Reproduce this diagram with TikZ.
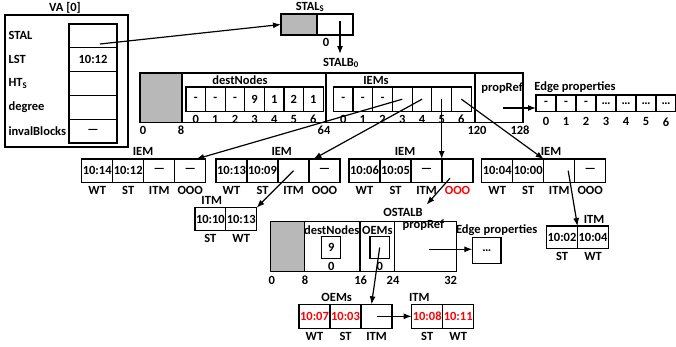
\documentclass[tikz,border=0pt]{standalone}
\usepackage{fontspec}
\setmainfont{Carlito}
\usetikzlibrary{positioning, arrows.meta}

\tikzset{
	cell/.style={draw, inner sep=0pt, outer sep=0pt, minimum width=#1},
	cell/.default=31,
	shade/.style={fill=black!28}
}

\begin{document}
\begin{tikzpicture}[x=1pt, y=-1pt, >={Latex[length=8pt,width=6pt]},
		line width=1.2pt, font=\fontsize{12.5}{14}\selectfont\bfseries]
		\useasboundingbox (0,0) rectangle (676,346);

		\def\Ty{97.75}
		\def\Th{49.5}
		\def\Oy{246.7}
		\def\Oh{50}

		% vertex array
		\node[draw, minimum width=123, minimum height=132] (va) at (66.5,81) {};
		\node (vaTitle) at (65,8) {VA [0]};
		\foreach \name/\lab/\val [count=\i from 0] in {STAL/STAL/{}, LST/LST/10:12,
				HT/HT\textsubscript{S}/{}, deg/degree/{}, inv/invalBlocks/\textemdash} {
			\node[cell=48, minimum height=23.8] (va\name) at (93,{35.9+23.8*\i}) {\val};
			\node[anchor=west, inner sep=0pt] at (8,{35.9+23.8*\i}) {\lab};
		}

		% STAL_S
		\node[cell=36, minimum height=21, shade] (stalsGray) at (299,24.5) {};
		\node[cell=36, minimum height=21] (stalsSlot) at (335,24.5) {};
		\node (stalsTitle) at (310,7) {STAL\textsubscript{S}};
		\node at (326,42) {0};
		\coordinate (vaPtr) at (100,44);
		\coordinate (stalsPtr) at (340,21);
		\node (stalbTitle) at (341,63) {STALB\textsubscript{0}};

		\draw[->] (vaPtr) -- (stalsGray.west);
		\draw[->] (stalsPtr) -- (stalsPtr |- stalbTitle.north);

		% STALB
		\node[cell=42, minimum height=\Th, shade] (stalbGray) at (161,\Ty) {};
		\node[cell=144, minimum height=\Th] (stalbDest) at (254,\Ty) {};
		\node[cell=149, minimum height=\Th] (stalbIEMs) at (400.5,\Ty) {};
		\node[cell=48, minimum height=\Th] (stalbProp) at (499,\Ty) {};
		\node at (240,80) {destNodes};
		\node at (376,80) {IEMs};
		\node at (502,88) {propRef};
		\foreach \v [count=\i from 0] in {-,-,-,9,1,2,1}
			\node[cell=19.6, minimum height=24.5, label=below:\i] (dn\i)
				at ({195.8+19.6*\i},99.2) {\v};
		\foreach \v [count=\i from 0] in {-,-,-,{},{},{},{}}
			\node[cell=19.7, minimum height=24.5, label=below:\i] (ie\i)
				at ({343.2+19.7*\i},99.2) {\v};
		\foreach \x/\t in {143/0, 181/8, 324/64, 477/120, 520/128}
			\node at (\x,130) {\t};

		% edge properties
		\node (epTitle) at (575,87) {Edge properties};
		\foreach \v [count=\i from 0] in {-,-,-,\ldots,\ldots,\ldots,\ldots}
			\node[cell=20, minimum height=16.7, label={[label distance=2pt]below:\i}] (ep\i)
				at ({546+20*\i},103.3) {\v};
		\coordinate (propPtr) at (503,108);
		\draw[->] (propPtr) -- (propPtr -| ep0.west);

		% IEMs
		\foreach \b/\x/\lx/\va/\vb/\vc/\vd/\oc in {
				1/81.7/143/10:14/10:12/\textemdash/\textemdash/black,
				2/216/281.7/10:13/10:09/{}/\textemdash/black,
				3/349/405/10:06/10:05/\textemdash/{}/red,
				4/481.7/551/10:04/10:00/{}/\textemdash/black} {
			\node at (\lx,151.7) {IEM};
			\node[cell, minimum height=23.3, label=below:WT] (iem\b-0) at ({\x+15.5},170.7) {\va};
			\node[cell, minimum height=23.3, label=below:ST] (iem\b-1) at ({\x+46.5},170.7) {\vb};
			\node[cell, minimum height=23.3, label=below:ITM] (iem\b-2) at ({\x+77.5},170.7) {\vc};
			\node[cell, minimum height=23.3, label={[text=\oc]below:OOO}] (iem\b-3)
				at ({\x+108.5},170.7) {\vd};
		}

		\draw[->] (ie3.center) -- ([xshift=6pt]iem1-3.north);
		\draw[->] (ie4.center) -- ([xshift=-11pt]iem2-3.north);
		\draw[->] (ie5.center) -- (ie5.center |- iem3-3.north);
		\draw[->] (ie6.center) -- (iem4-2.north west);

		% ITMs
		\node at (211.7,200) {ITM};
		\node[cell=30.8, minimum height=23, label=below:ST] (itmA-0) at (210.4,219.2) {10:10};
		\node[cell=30.8, minimum height=23, label=below:WT] (itmA-1) at (241.2,219.2) {10:13};
		\draw[->] (iem2-2.center) -- (itmA-1.north east);

		\node at (594,219.3) {ITM};
		\node[cell, minimum height=22.3, label=below:ST] (itmB-0) at (562,237.2) {10:02};
		\node[cell, minimum height=22.3, label=below:WT] (itmB-1) at (593,237.2) {10:04};
		\draw[->] ([xshift=9pt]iem4-2.center) -- (itmB-0.north east);

		% OSTALB
		\node[cell=33.6, minimum height=\Oh, shade] (ostalbGray) at (287.5,\Oy) {};
		\node[cell=55.7, minimum height=\Oh] (ostalbDest) at (332.15,\Oy) {};
		\node[cell=34.3, minimum height=\Oh] (ostalbOEMs) at (377.15,\Oy) {};
		\node[cell=62.4, minimum height=\Oh] (ostalbProp) at (425.5,\Oy) {};
		\node (ostalbTitle) at (403,212.7) {OSTALB};
		\node at (331.7,230) {destNodes};
		\node at (377.3,230) {OEMs};
		\node at (423.3,225) {propRef};
		\node[cell=19, minimum height=21.6, label=below:0] (odn0) at (331.2,247.5) {9};
		\node[cell=19.3, minimum height=21.6, label=below:0] (ooem0) at (379.7,247.5) {};
		\foreach \x/\t in {271.7/0, 305/8, 360.7/16, 393/24, 450.7/32}
			\node at (\x,280) {\t};

		\node at (496.7,230) {Edge properties};
		\node[cell=28.7, minimum height=25.6] (epBox) at (486.7,250.5) {\ldots};
		\coordinate (oPropPtr) at (429.3,249.3);
		\draw[->] (oPropPtr) -- (oPropPtr -| epBox.west);

		\draw[->] ([xshift=-7.5pt,yshift=-7.5pt]iem3-3.center) -- (ostalbTitle.north east);

		% OEMs
		\node at (336.7,297.3) {OEMs};
		\node[cell, minimum height=24, label=below:WT, text=red] (oem-0) at (314.5,316.3) {10:07};
		\node[cell, minimum height=24, label=below:ST, text=red] (oem-1) at (345.5,316.3) {10:03};
		\node[cell, minimum height=24, label=below:ITM] (oem-2) at (376.5,316.3) {};
		\draw[->] (ooem0.center) -- ([xshift=-5pt]oem-2.north);

		\node at (419.3,297.3) {ITM};
		\node[cell, minimum height=24, label=below:ST, text=red] (itmC-0) at (427.2,316.3) {10:08};
		\node[cell, minimum height=24, label=below:WT, text=red] (itmC-1) at (458.2,316.3) {10:11};
		\draw[->] (oem-2.center) -- (itmC-0.west);
	\end{tikzpicture}
\end{document}
